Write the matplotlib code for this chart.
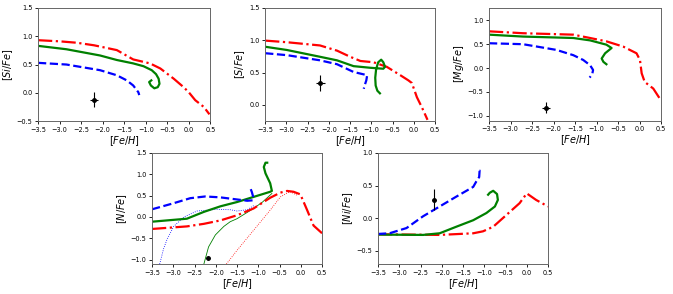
import matplotlib
matplotlib.use("Agg")
import matplotlib.pyplot as plt
import numpy as np

# ---------------- data ----------------
# [Si/Fe]
si_red_x = [-3.5, -3.0, -2.6, -2.2, -1.67, -1.29, -0.9, -0.66, -0.35, -0.12, 0.0, 0.15, 0.35, 0.48]
si_red_y = [0.93, 0.91, 0.885, 0.84, 0.755, 0.59, 0.52, 0.43, 0.25, 0.10, 0.01, -0.13, -0.25, -0.38]
si_grn_x = [-3.5, -2.84, -2.06, -1.67, -1.29, -1.05, -0.86, -0.76, -0.70, -0.68, -0.72, -0.80, -0.88, -0.92, -0.87]
si_grn_y = [0.83, 0.77, 0.66, 0.58, 0.52, 0.47, 0.40, 0.33, 0.25, 0.16, 0.10, 0.08, 0.13, 0.19, 0.22]
si_blu_x = [-3.5, -2.84, -2.06, -1.67, -1.44, -1.29, -1.17, -1.15]
si_blu_y = [0.53, 0.50, 0.40, 0.31, 0.22, 0.13, 0.01, -0.04]
si_obs = (-2.2, -0.12, 0.10, 0.13)

# [S/Fe]
s_red_x = [-3.5, -2.99, -2.21, -1.81, -1.5, -1.26, -0.95, -0.64, -0.32, -0.13, -0.05, 0.0, 0.07, 0.19, 0.32]
s_red_y = [0.995, 0.97, 0.92, 0.84, 0.745, 0.68, 0.66, 0.59, 0.46, 0.38, 0.34, 0.25, 0.12, -0.04, -0.23]
s_grn_x = [-3.5, -2.99, -2.21, -1.81, -1.42, -1.03, -0.72, -0.68, -0.72, -0.77, -0.84, -0.89, -0.91, -0.90, -0.86, -0.80]
s_grn_y = [0.90, 0.85, 0.745, 0.69, 0.60, 0.575, 0.56, 0.59, 0.66, 0.70, 0.66, 0.55, 0.42, 0.30, 0.22, 0.18]
s_blu_x = [-3.5, -2.99, -2.21, -1.81, -1.42, -1.10, -1.12, -1.16, -1.18]
s_blu_y = [0.80, 0.77, 0.69, 0.63, 0.51, 0.46, 0.38, 0.30, 0.25]
s_obs = (-2.2, 0.34, 0.10, 0.13)

# [Mg/Fe]
mg_red_x = [-3.5, -2.71, -1.93, -1.54, -1.15, -0.77, -0.38, -0.07, 0.01, 0.05, 0.12, 0.32, 0.5]
mg_red_y = [0.77, 0.73, 0.71, 0.70, 0.63, 0.56, 0.45, 0.31, 0.17, -0.11, -0.29, -0.43, -0.68]
mg_grn_x = [-3.5, -2.71, -1.93, -1.54, -1.15, -0.77, -0.65, -0.80, -0.88, -0.84, -0.77]
mg_grn_y = [0.70, 0.66, 0.64, 0.63, 0.58, 0.49, 0.42, 0.31, 0.20, 0.13, 0.08]
mg_blu_x = [-3.5, -2.71, -1.93, -1.54, -1.31, -1.15, -1.08, -1.10, -1.16]
mg_blu_y = [0.52, 0.50, 0.38, 0.27, 0.17, 0.06, -0.04, -0.13, -0.20]
mg_obs = (-2.17, -0.83, 0.10, 0.12)

# [N/Fe]
n_red_x = [-3.5, -2.68, -2.28, -1.89, -1.5, -1.11, -0.72, -0.48, -0.32, -0.17, -0.01, 0.15, 0.30, 0.5]
n_red_y = [-0.28, -0.22, -0.16, -0.08, 0.04, 0.20, 0.45, 0.57, 0.61, 0.59, 0.53, 0.16, -0.20, -0.38]
n_grn_x = [-3.5, -2.68, -2.28, -1.89, -1.5, -1.11, -0.72, -0.68, -0.72, -0.83, -0.87, -0.83, -0.79]
n_grn_y = [-0.11, -0.04, 0.12, 0.25, 0.35, 0.47, 0.59, 0.61, 0.79, 1.02, 1.17, 1.27, 1.27]
n_blu_x = [-3.5, -3.0, -2.6, -2.25, -1.9, -1.5, -1.26, -1.13, -1.12, -1.15, -1.20]
n_blu_y = [0.18, 0.32, 0.44, 0.48, 0.46, 0.41, 0.38, 0.39, 0.47, 0.58, 0.71]
n_blu_thin_x = [-3.32, -3.23, -3.15, -2.99, -2.75, -2.44, -1.97, -1.66, -1.5, -1.26, -1.1]
n_blu_thin_y = [-1.10, -0.75, -0.53, -0.22, 0.0, 0.14, 0.18, 0.17, 0.14, 0.17, 0.27]
n_grn_thin_x = [-2.28, -2.17, -2.01, -1.81, -1.66, -1.5, -1.11, -0.9, -0.68]
n_grn_thin_y = [-1.10, -0.70, -0.42, -0.22, -0.11, -0.04, 0.20, 0.35, 0.55]
n_red_thin_x = [-1.75, -1.5, -1.11, -0.72, -0.48, -0.32, -0.25, -0.09]
n_red_thin_y = [-1.10, -0.78, -0.31, 0.16, 0.47, 0.56, 0.59, 0.51]
n_obs = (-2.19, -0.96, 0.05, 0.04)

# [Ni/Fe]
ni_red_x = [-3.5, -2.05, -1.26, -1.03, -0.79, -0.48, -0.17, 0.0, 0.22, 0.5]
ni_red_y = [-0.245, -0.255, -0.23, -0.20, -0.13, 0.05, 0.23, 0.38, 0.28, 0.18]
ni_grn_x = [-3.5, -2.44, -2.05, -1.66, -1.26, -0.95, -0.75, -0.68, -0.70, -0.79, -0.87, -0.91]
ni_grn_y = [-0.25, -0.255, -0.23, -0.13, -0.03, 0.08, 0.18, 0.28, 0.37, 0.42, 0.39, 0.36]
ni_blu_x = [-3.5, -3.23, -2.83, -2.44, -2.05, -1.66, -1.26, -1.19, -1.12, -1.11, -1.15]
ni_blu_y = [-0.24, -0.23, -0.15, 0.03, 0.18, 0.33, 0.48, 0.56, 0.63, 0.73, 0.74]
ni_obs = (-2.19, 0.28, 0.05, 0.16)

xticks = [-3.5, -3.0, -2.5, -2.0, -1.5, -1.0, -0.5, 0.0, 0.5]

# ---------------- plotting ----------------
fig = plt.figure(figsize=(6.73, 2.94), dpi=100)

W = 0.2526
H_top = 0.385
H_bot = 0.378
axes_specs = [
    ([0.0565, 0.588, 0.256, H_top], r'$[Si/Fe]$', (-0.5, 1.5), [-0.5, 0.0, 0.5, 1.0, 1.5]),
    ([0.394, 0.588, W, H_top], r'$[S/Fe]$', (-0.25, 1.5), [0.0, 0.5, 1.0, 1.5]),
    ([0.7266, 0.590, 0.2556, 0.383], r'$[Mg/Fe]$', (-1.1, 1.26), [-1.0, -0.5, 0.0, 0.5, 1.0]),
    ([0.2259, 0.102, W, H_bot], r'$[N/Fe]$', (-1.1, 1.5), [-1.0, -0.5, 0.0, 0.5, 1.0, 1.5]),
    ([0.5617, 0.102, W, H_bot], r'$[Ni/Fe]$', (-0.7, 1.0), [-0.5, 0.0, 0.5, 1.0]),
]

data = [
    (si_red_x, si_red_y, si_grn_x, si_grn_y, si_blu_x, si_blu_y, si_obs),
    (s_red_x, s_red_y, s_grn_x, s_grn_y, s_blu_x, s_blu_y, s_obs),
    (mg_red_x, mg_red_y, mg_grn_x, mg_grn_y, mg_blu_x, mg_blu_y, mg_obs),
    (n_red_x, n_red_y, n_grn_x, n_grn_y, n_blu_x, n_blu_y, n_obs),
    (ni_red_x, ni_red_y, ni_grn_x, ni_grn_y, ni_blu_x, ni_blu_y, ni_obs),
]

lw = 1.6
for i, ((rect, ylab, ylim, yticks), d) in enumerate(zip(axes_specs, data)):
    ax = fig.add_axes(rect)
    rx, ry, gx, gy, bx, by, obs = d
    if i == 3:
        ax.plot(n_blu_thin_x, n_blu_thin_y, color='blue', lw=0.6, ls=':')
        ax.plot(n_grn_thin_x, n_grn_thin_y, color='green', lw=0.6, ls='-')
        ax.plot(n_red_thin_x, n_red_thin_y, color='red', lw=0.6, ls=':')
    ax.plot(rx, ry, color='red', lw=lw, ls='-.')
    ax.plot(gx, gy, color='green', lw=lw, ls='-')
    ax.plot(bx, by, color='blue', lw=lw, ls='--')
    ax.errorbar([obs[0]], [obs[1]], xerr=[obs[2]], yerr=[obs[3]], fmt='o',
                color='black', ms=2.5, elinewidth=0.8, capsize=0)
    ax.set_xlim(-3.5, 0.5)
    ax.set_ylim(*ylim)
    ax.set_xticks(xticks)
    ax.set_yticks(yticks)
    ax.tick_params(labelsize=4.7, length=2.5, width=0.6, pad=1.5)
    for sp in ax.spines.values():
        sp.set_color('#666666')
        sp.set_linewidth(0.7)
    ax.set_xlabel(r'$[Fe/H]$', fontsize=7, labelpad=1)
    ax.set_ylabel(ylab, fontsize=7, labelpad=1.5)

fig.savefig('out.png', dpi=100)
